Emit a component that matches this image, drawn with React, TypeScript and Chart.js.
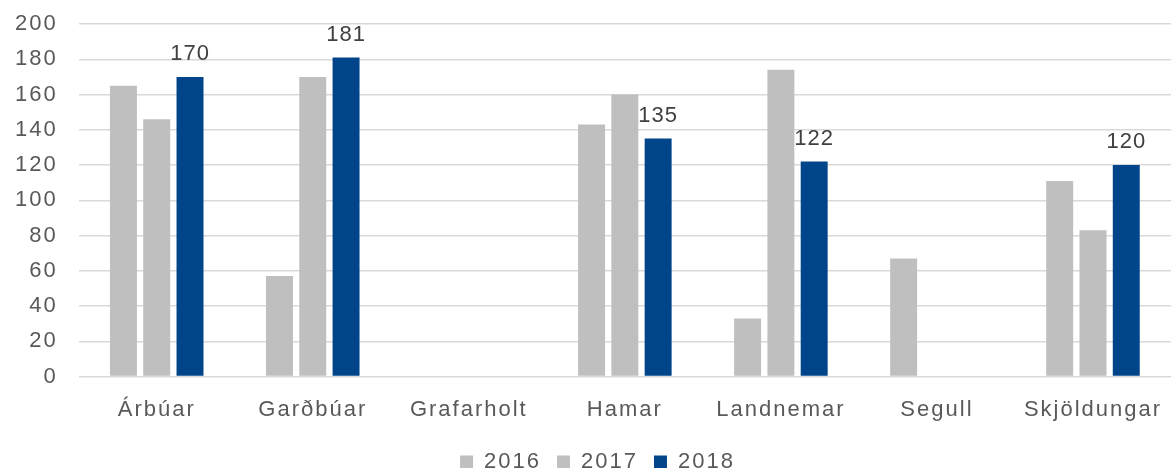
import React, { useEffect, useRef } from "react";
import { Chart, registerables } from "chart.js";

Chart.register(...registerables);

const categories = ["Árbúar", "Garðbúar", "Grafarholt", "Hamar", "Landnemar", "Segull", "Skjöldungar"];
const series2016 = [165, 57, null, 143, 33, 67, 111];
const series2017 = [146, 170, null, 160, 174, null, 83];
const series2018 = [170, 181, null, 135, 122, null, 120];
const seriesLabels = ["2016", "2017", "2018"];
const yTicks = [0, 20, 40, 60, 80, 100, 120, 140, 160, 180, 200];

const FONT = "'Liberation Sans', Arial, sans-serif";

const spacingPlugin = {
  id: "spacing",
  beforeInit(chart: any) {
    chart.ctx.letterSpacing = "2px";
  },
  beforeDraw(chart: any) {
    chart.ctx.letterSpacing = "2px";
  },
};

const labelPlugin = {
  id: "valueLabels",
  afterDatasetsDraw(chart: any) {
    const ctx = chart.ctx;
    const meta = chart.getDatasetMeta(2);
    ctx.save();
    ctx.letterSpacing = "1px";
    ctx.font = `22px ${FONT}`;
    ctx.fillStyle = "#404040";
    ctx.textAlign = "center";
    ctx.textBaseline = "bottom";
    meta.data.forEach((bar: any, i: number) => {
      const v = series2018[i];
      if (v == null) return;
      ctx.fillText(String(v), bar.x, bar.y - 12);
    });
    ctx.restore();
  },
};

export default function App() {
  const ref = useRef<HTMLCanvasElement>(null);
  useEffect(() => {
    document.body.style.margin = "0";
    const chart = new Chart(ref.current!, {
      type: "bar",
      data: {
        labels: categories,
        datasets: [
          { label: seriesLabels[0], data: series2016, backgroundColor: "#BFBFBF" },
          { label: seriesLabels[1], data: series2017, backgroundColor: "#BFBFBF" },
          { label: seriesLabels[2], data: series2018, backgroundColor: "#00458A" },
        ],
      },
      options: {
        animation: false,
        responsive: false,
        maintainAspectRatio: false,
        layout: { padding: { top: 24, right: 2, left: 0, bottom: -15 } },
        datasets: { bar: { categoryPercentage: 0.64, barPercentage: 0.81 } },
        plugins: {
          legend: {
            position: "bottom",
            labels: {
              boxWidth: 13,
              boxHeight: 13,
              padding: 16,
              color: "#595959",
              font: { size: 22, family: FONT },
            },
          },
          tooltip: { enabled: false },
        },
        scales: {
          x: {
            grid: { display: false },
            border: { display: false },
            ticks: {
              color: "#595959",
              font: { size: 22, family: FONT },
              padding: 12,
            },
          },
          y: {
            min: 0,
            max: 200,
            afterBuildTicks: (axis: any) => {
              axis.ticks = yTicks.map((v) => ({ value: v }));
            },
            afterFit: (axis: any) => {
              axis.paddingTop = 0;
            },
            grid: { color: "#D9D9D9", lineWidth: 1.5, drawTicks: false },
            border: { display: false },
            ticks: {
              color: "#595959",
              font: { size: 22, family: FONT },
              padding: 21,
            },
          },
        },
      },
      plugins: [spacingPlugin, labelPlugin],
    });
    return () => chart.destroy();
  }, []);
  return <canvas ref={ref} width={1173} height={468} style={{ display: "block" }} />;
}
